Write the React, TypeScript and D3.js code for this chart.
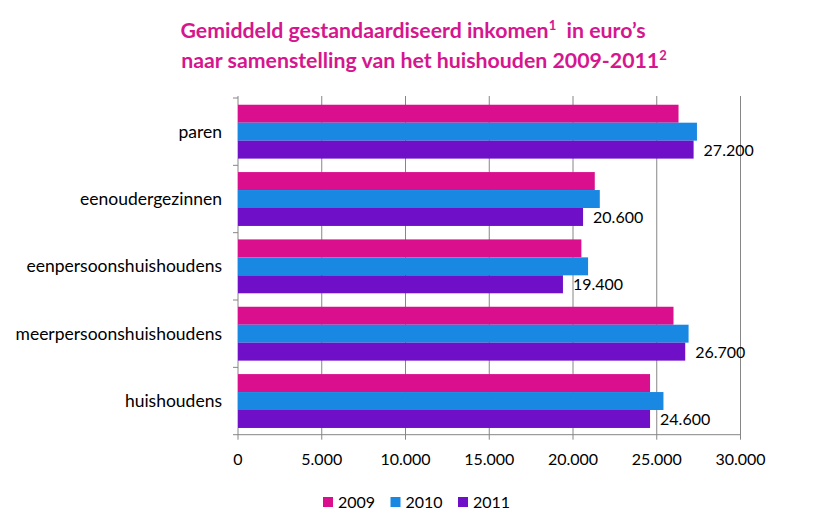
import React from "react";
import * as d3 from "d3";

const categories = ["paren", "eenoudergezinnen", "eenpersoonshuishoudens", "meerpersoonshuishoudens", "huishoudens"];
const seriesNames = ["2009", "2010", "2011"];
const values2009 = [26300, 21300, 20500, 26000, 24600];
const values2010 = [27400, 21600, 20900, 26900, 25400];
const values2011 = [27200, 20600, 19400, 26700, 24600];
const labels2011 = ["27.200", "20.600", "19.400", "26.700", "24.600"];
const xTicks = [0, 5000, 10000, 15000, 20000, 25000, 30000];
const colors = ["#D90F8E", "#1988E3", "#6F0FC8"];

const FONT = "Lato, 'Open Sans', sans-serif";

export default function App() {
  const W = 827, H = 531;
  const left = 238, right = 740.5, top = 98, bottom = 434.7;
  const x = d3.scaleLinear().domain([0, 30000]).range([left, right]);
  const y = d3.scaleBand().domain(categories).range([top, bottom]).paddingInner(0.2).paddingOuter(0.1);
  const yOuter = d3.scaleBand().domain(categories).range([top, bottom]);
  const ySub = d3.scaleBand().domain(seriesNames).range([0, y.bandwidth()]);
  const series = [values2009, values2010, values2011];
  const fmt = (v: number) => v === 0 ? "0" : d3.format(",")(v).replace(/,/g, ".");
  const boundaries = categories.map((c) => yOuter(c) as number).concat([bottom]);

  return (
    <svg width={W} height={H} style={{ position: "absolute", left: 0, top: 0, background: "#fff" }} fontFamily={FONT}>
      <rect x={0} y={0} width={W} height={H} fill="#fff" />
      <text x={413} y={38} textAnchor="middle" fill="#D6168E" fontWeight="bold" fontSize={21.3}>
        Gemiddeld gestandaardiseerd inkomen<tspan fontSize={13} dy={-8}>1</tspan><tspan dy={8}>{"\u00a0 in euro\u2019s"}</tspan>
      </text>
      <text x={424} y={68} textAnchor="middle" fill="#D6168E" fontWeight="bold" fontSize={21.3}>
        naar samenstelling van het huishouden 2009-2011<tspan fontSize={13} dy={-8}>2</tspan>
      </text>
      {xTicks.map((t) => (
        <g key={t}>
          <line x1={x(t)} x2={x(t)} y1={top - 2} y2={bottom + 5} stroke="#868686" strokeWidth={1} />
          <text x={x(t)} y={bottom + 30} textAnchor="middle" fontSize={16} fill="#000">{fmt(t)}</text>
        </g>
      ))}
      <line x1={left} x2={right} y1={bottom} y2={bottom} stroke="#868686" />
      {boundaries.map((b, i) => (
        <line key={i} x1={left - 5} x2={left} y1={b} y2={b} stroke="#868686" />
      ))}
      {categories.map((c, i) => (
        <g key={c}>
          {series.map((s, j) => (
            <rect key={j} x={x(0)} y={(y(c) as number) + (ySub(seriesNames[j]) as number)} width={x(s[i]) - x(0)} height={ySub.bandwidth()} fill={colors[j]} />
          ))}
          <text x={x(values2011[i]) + 10} y={(y(c) as number) + (ySub("2011") as number) + ySub.bandwidth() / 2 + 6} fontSize={16} fill="#000">{labels2011[i]}</text>
          <text x={222} y={(yOuter(c) as number) + yOuter.bandwidth() / 2 + 6} textAnchor="end" fontSize={17.5} fill="#000">{c}</text>
        </g>
      ))}
      {seriesNames.map((n, j) => (
        <g key={n} transform={`translate(${323 + j * 67.5},${497})`}>
          <rect x={0} y={0} width={10} height={10} fill={colors[j]} />
          <text x={15} y={11} fontSize={16} fill="#000">{n}</text>
        </g>
      ))}
    </svg>
  );
}
